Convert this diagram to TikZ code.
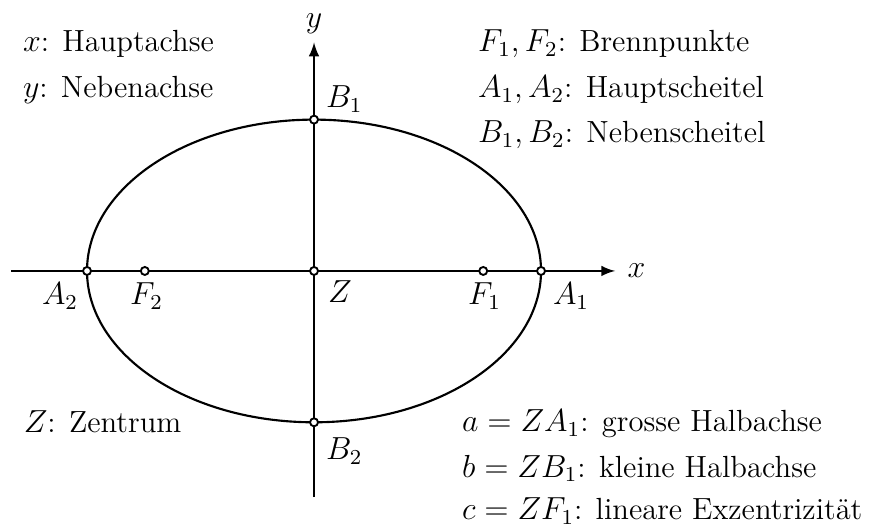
\documentclass[tikz,border=0pt]{standalone}
\usepackage{xcolor}
\usepackage{tikz}

\begin{document}
\begin{tikzpicture}[
    pt/.style={draw, circle, fill=white, line width=0.7pt, minimum size=3pt, inner sep=0pt},
    lbl/.style={inner sep=0pt, anchor=base west, font=\fontsize{11.5}{14}\selectfont},
    txt/.style={inner sep=0pt, anchor=base west, font=\fontsize{11.5}{14}\selectfont},
    >={latex},
    thick
    ]

    \useasboundingbox (-4.15,-3.383) rectangle (7.374,3.581);

    % axes
    \coordinate (xl) at (-4,0);
    \coordinate (xr) at (3.98,0);
    \coordinate (yb) at (0,-2.99);
    \coordinate (yt) at (0,3.02);
    \draw[->] (xl) -- (xr);
    \draw[->] (yb) -- (yt);
    \node[lbl] (xlab) at (4.13,-0.08) {$x$};
    \node[lbl, anchor=base] (ylab) at (0,3.22) {$y$};

    % ellipse
    \draw (0,0) ellipse (3 and 2);

    \node[pt] (Z) at (0,0) {};
    \node[pt] (A1) at (3,0) {};
    \node[pt] (A2) at (-3,0) {};
    \node[pt] (B1) at (0,2) {};
    \node[pt] (B2) at (0,-2) {};
    \node[pt] (F1) at (2.236,0) {};
    \node[pt] (F2) at (-2.236,0) {};

    \node[lbl] (lB1) at (0.145,2.154) {$B_1$};
    \node[lbl] (lB2) at (0.145,-2.498) {$B_2$};
    \node[lbl] (lA2) at (-3.608,-0.449) {$A_2$};
    \node[lbl] (lF2) at (-2.445,-0.449) {$F_2$};
    \node[lbl] (lZ) at (0.172,-0.423) {$Z$};
    \node[lbl] (lF1) at (2.022,-0.449) {$F_1$};
    \node[lbl] (lA1) at (3.145,-0.449) {$A_1$};

    % legend
    \node[txt] (tx) at (-3.86,2.894) {$x$: Hauptachse};
    \node[txt] (ty) at (-3.86,2.286) {$y$: Nebenachse};
    \node[txt] (tF) at (2.154,2.894) {$F_1, F_2$: Brennpunkte};
    \node[txt] (tA) at (2.154,2.286) {$A_1, A_2$: Hauptscheitel};
    \node[txt] (tB) at (2.154,1.692) {$B_1, B_2$: Nebenscheitel};
    \node[txt] (tZ) at (-3.85,-2.141) {$Z$: Zentrum};
    \node[txt] (ta) at (1.943,-2.128) {$a = ZA_1$: grosse Halbachse};
    \node[txt] (tb) at (1.943,-2.723) {$b = ZB_1$: kleine Halbachse};
    \node[txt] (tc) at (1.943,-3.291) {$c = ZF_1$: lineare Exzentrizität};

\end{tikzpicture}
\end{document}
